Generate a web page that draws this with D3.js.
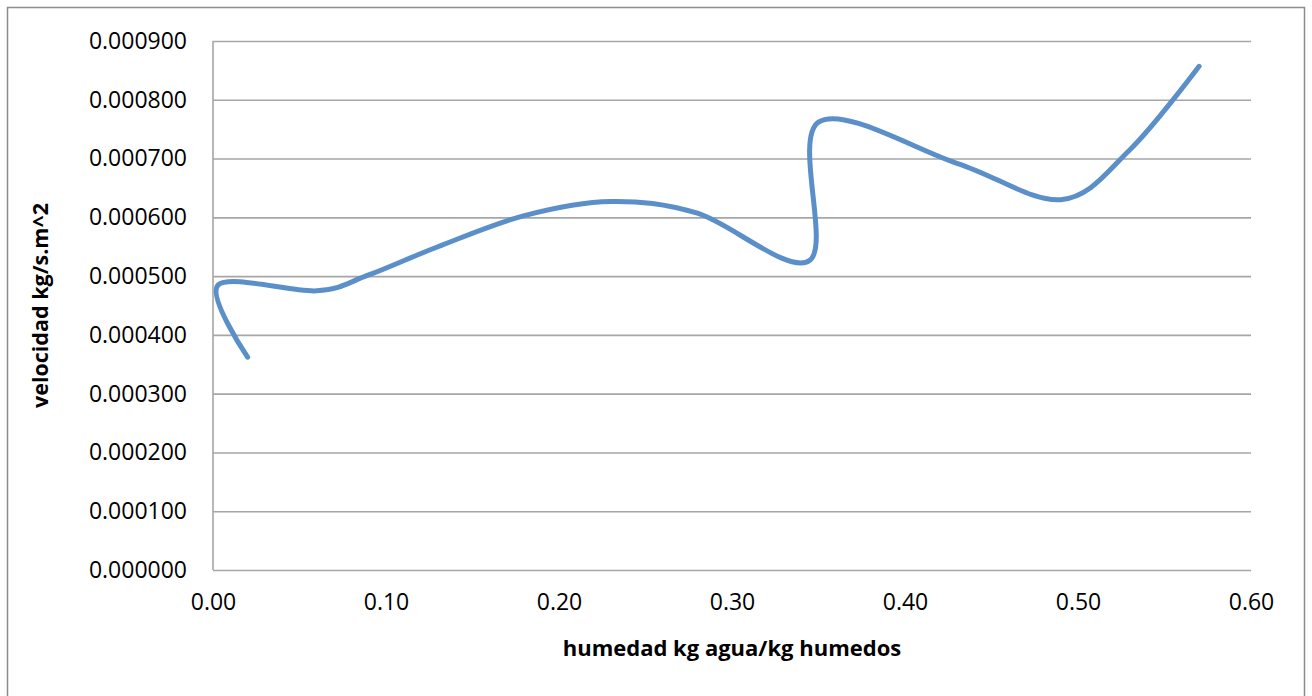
<!DOCTYPE html>
<html>
<head>
<meta charset="utf-8">
<script src="https://cdn.jsdelivr.net/npm/d3@7"></script>
<style>
  html, body { margin: 0; padding: 0; background: #fff; }
  svg { display: block; }
  text { font-family: "Open Sans", "Noto Sans", sans-serif; fill: #000; }
</style>
</head>
<body>
<svg id="chart" width="1312" height="696"></svg>
<script>
// Drying-rate curve: moisture content (kg water / kg wet) vs. drying rate (kg/s.m^2)
const humedad   = [0.570, 0.530, 0.490, 0.430, 0.350, 0.345, 0.280, 0.230, 0.180, 0.130, 0.090, 0.060, 0.003, 0.020];
const velocidad = [0.000857, 0.000715, 0.000630, 0.000692, 0.000762, 0.000527, 0.000607, 0.000627, 0.000603, 0.000550, 0.000502, 0.000475, 0.000485, 0.000362];
const xTicks = [0.00, 0.10, 0.20, 0.30, 0.40, 0.50, 0.60];
const yTicks = [0, 0.0001, 0.0002, 0.0003, 0.0004, 0.0005, 0.0006, 0.0007, 0.0008, 0.0009];
const xTitle = "humedad kg agua/kg humedos";
const yTitle = "velocidad kg/s.m^2";

const svg = d3.select("#chart");
const m = { left: 213, right: 1251, top: 41, bottom: 570 };

// outer chart frame
svg.append("rect")
  .attr("x", 7.5).attr("y", 7.5)
  .attr("width", 1297).attr("height", 700)
  .attr("fill", "none").attr("stroke", "#8c8c8c").attr("stroke-width", 1.5);

const x = d3.scaleLinear().domain([0, 0.6]).range([m.left, m.right]);
const y = d3.scaleLinear().domain([0, 0.0009]).range([m.bottom, m.top]);

// horizontal gridlines
svg.append("g")
  .attr("transform", `translate(${m.left},0)`)
  .call(d3.axisLeft(y).tickValues(yTicks).tickSize(-(m.right - m.left)).tickFormat(""))
  .call(g => g.select(".domain").remove())
  .call(g => g.selectAll(".tick line").attr("stroke", "#a6a6a6").attr("stroke-width", 1.6));

// y axis line
svg.append("line")
  .attr("x1", m.left).attr("x2", m.left)
  .attr("y1", m.top).attr("y2", m.bottom)
  .attr("stroke", "#a6a6a6").attr("stroke-width", 1.6);

// y tick labels
svg.append("g")
  .attr("transform", `translate(${m.left},0)`)
  .call(d3.axisLeft(y).tickValues(yTicks).tickSize(0).tickPadding(26).tickFormat(d3.format(".6f")))
  .call(g => g.select(".domain").remove())
  .call(g => g.selectAll("text").style("font-size", "23px").attr("font-family", "Open Sans").attr("fill", "#000"));

// x tick labels
svg.append("g")
  .attr("transform", `translate(0,${m.bottom})`)
  .call(d3.axisBottom(x).tickValues(xTicks).tickSize(0).tickPadding(24).tickFormat(d3.format(".2f")))
  .call(g => g.select(".domain").remove())
  .call(g => g.selectAll("text").style("font-size", "23px").attr("font-family", "Open Sans").attr("fill", "#000"));

// smoothed series line
const pts = humedad.map((h, i) => [h, velocidad[i]]);
svg.append("path")
  .datum(pts)
  .attr("fill", "none")
  .attr("stroke", "#5b8fc9")
  .attr("stroke-width", 5)
  .attr("stroke-linecap", "round")
  .attr("stroke-linejoin", "round")
  .attr("d", d3.line().x(d => x(d[0])).y(d => y(d[1])).curve(d3.curveCardinal.tension(0)));

// axis titles
svg.append("text")
  .attr("x", (m.left + m.right) / 2).attr("y", 656)
  .attr("text-anchor", "middle")
  .style("font-size", "22px").style("font-weight", "bold")
  .text(xTitle);

svg.append("text")
  .attr("transform", `translate(48,${(m.top + m.bottom) / 2}) rotate(-90)`)
  .attr("text-anchor", "middle")
  .style("font-size", "21.5px").style("font-weight", "bold")
  .text(yTitle);
</script>
</body>
</html>
